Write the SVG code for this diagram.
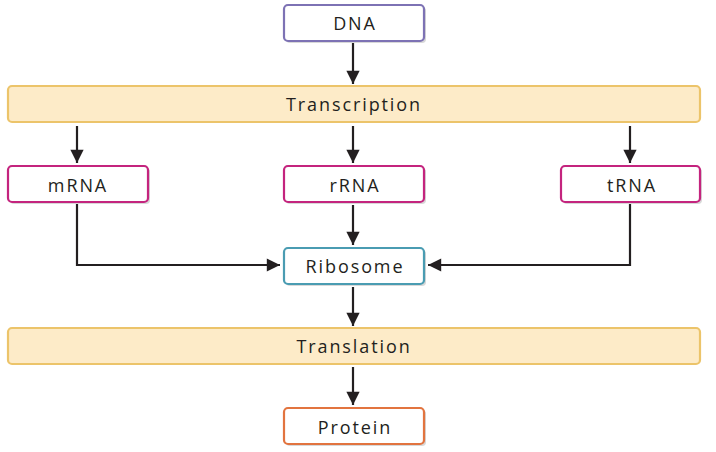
<svg xmlns="http://www.w3.org/2000/svg" width="716" height="452" viewBox="0 0 716 452">
<style>
.box{fill:#fff;stroke-width:2.2}
.bar{fill:#fdebc8;stroke:#ecc46a;stroke-width:2.2}
.t{font-family:"Open Sans","Liberation Sans",sans-serif;font-size:18px;letter-spacing:1.9px;fill:#231f20;text-anchor:middle;dominant-baseline:central}
.c{fill:none;stroke:#231f20;stroke-width:2.2}
.sh{fill:#d8d8d8}
</style>
<defs>
<marker id="ah" viewBox="0 0 10 10" refX="10" refY="5" markerWidth="6.5" markerHeight="6" orient="auto" markerUnits="strokeWidth">
<path d="M0,0 L10,5 L0,10 z" fill="#231f20"/>
</marker>
</defs>
<rect width="716" height="452" fill="#fff"/>
<g id="connectors">
<line class="c" x1="353" y1="43" x2="353" y2="84" marker-end="url(#ah)"/>
<line class="c" x1="77" y1="126" x2="77" y2="163" marker-end="url(#ah)"/>
<line class="c" x1="353" y1="126" x2="353" y2="163" marker-end="url(#ah)"/>
<line class="c" x1="630" y1="126" x2="630" y2="163" marker-end="url(#ah)"/>
<line class="c" x1="353" y1="205" x2="353" y2="245" marker-end="url(#ah)"/>
<polyline class="c" points="77,204 77,265 280,265" marker-end="url(#ah)"/>
<polyline class="c" points="630,204 630,265 428,265" marker-end="url(#ah)"/>
<line class="c" x1="353" y1="287" x2="353" y2="326" marker-end="url(#ah)"/>
<line class="c" x1="353" y1="367" x2="353" y2="405" marker-end="url(#ah)"/>
</g>
<g id="dna">
<rect class="sh" x="286" y="7" width="140" height="36" rx="4"/>
<rect class="box" x="284" y="5" width="140" height="36" rx="4" stroke="#7d72b4"/>
<text class="t" x="355" y="23">DNA</text>
</g>
<g id="transcription">
<rect class="bar" x="8" y="86" width="692" height="36" rx="4"/>
<text class="t" x="354" y="104">Transcription</text>
</g>
<g id="mrna">
<rect class="sh" x="10" y="168" width="140" height="36" rx="4"/>
<rect class="box" x="8" y="166" width="140" height="36" rx="4" stroke="#c4247e"/>
<text class="t" x="78" y="185">mRNA</text>
</g>
<g id="rrna">
<rect class="sh" x="286" y="168" width="140" height="36" rx="4"/>
<rect class="box" x="284" y="166" width="140" height="36" rx="4" stroke="#c4247e"/>
<text class="t" x="355" y="185">rRNA</text>
</g>
<g id="trna">
<rect class="sh" x="563" y="168" width="139" height="36" rx="4"/>
<rect class="box" x="561" y="166" width="139" height="36" rx="4" stroke="#c4247e"/>
<text class="t" x="632" y="185">tRNA</text>
</g>
<g id="ribosome">
<rect class="sh" x="286" y="250" width="140" height="36" rx="4"/>
<rect class="box" x="284" y="248" width="140" height="36" rx="4" stroke="#4a9cb2"/>
<text class="t" x="355" y="266">Ribosome</text>
</g>
<g id="translation">
<rect class="bar" x="8" y="328" width="692" height="36" rx="4"/>
<text class="t" x="354" y="346">Translation</text>
</g>
<g id="protein">
<rect class="sh" x="286" y="410" width="140" height="36" rx="4"/>
<rect class="box" x="284" y="408" width="140" height="36" rx="4" stroke="#e2743f"/>
<text class="t" x="355" y="427">Protein</text>
</g>
</svg>
